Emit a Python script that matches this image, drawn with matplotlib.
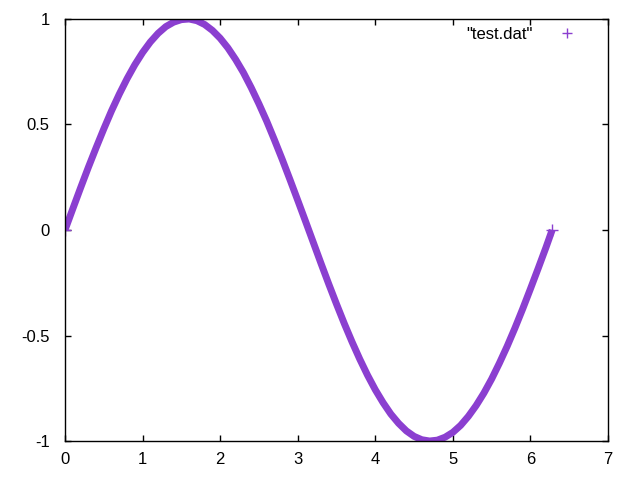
import matplotlib
matplotlib.use("Agg")
import matplotlib.pyplot as plt
from matplotlib.lines import Line2D

# values ("test.dat")
xs = [0.0, 0.1, 0.2, 0.3, 0.4, 0.5, 0.6, 0.7, 0.8, 0.9,
      1.0, 1.1, 1.2, 1.3, 1.4, 1.5, 1.6, 1.7, 1.8, 1.9,
      2.0, 2.1, 2.2, 2.3, 2.4, 2.5, 2.6, 2.7, 2.8, 2.9,
      3.0, 3.1, 3.2, 3.3, 3.4, 3.5, 3.6, 3.7, 3.8, 3.9,
      4.0, 4.1, 4.2, 4.3, 4.4, 4.5, 4.6, 4.7, 4.8, 4.9,
      5.0, 5.1, 5.2, 5.3, 5.4, 5.5, 5.6, 5.7, 5.8, 5.9,
      6.0, 6.1, 6.2, 6.28]
ys = [0.000, 0.100, 0.199, 0.296, 0.389, 0.479, 0.565, 0.644, 0.717, 0.783,
      0.841, 0.891, 0.932, 0.964, 0.985, 0.997, 1.000, 0.992, 0.974, 0.946,
      0.909, 0.863, 0.808, 0.746, 0.675, 0.598, 0.516, 0.427, 0.335, 0.239,
      0.141, 0.042, -0.058, -0.158, -0.256, -0.351, -0.443, -0.530, -0.612, -0.688,
      -0.757, -0.818, -0.872, -0.916, -0.952, -0.978, -0.994, -1.000, -0.996, -0.982,
      -0.959, -0.926, -0.883, -0.832, -0.773, -0.706, -0.631, -0.551, -0.465, -0.374,
      -0.279, -0.182, -0.083, 0.000]
xticks = [0, 1, 2, 3, 4, 5, 6, 7]
yticks = [-1, -0.5, 0, 0.5, 1]
ytick_labels = ["-1", "-0.5", "0", "0.5", "1"]

purple = "#8b3fd0"

plt.rcParams["font.family"] = ["Liberation Sans", "DejaVu Sans"]
plt.rcParams["font.size"] = 12

fig = plt.figure(figsize=(6.4, 4.8), dpi=100)
ax = fig.add_axes([65 / 640, 1 - 441 / 480, (608 - 65) / 640, (441 - 19) / 480])

# dense points merge into a thick band
ax.plot(xs, ys, "-", color=purple, lw=5, solid_capstyle="butt",
        solid_joinstyle="round",
        marker="+", markevery=[0, len(xs) - 1], ms=8, mew=1)

ax.set_xlim(0, 7)
ax.set_ylim(-1, 1)
ax.set_xticks(xticks)
ax.set_yticks(yticks)
ax.set_yticklabels(ytick_labels)
ax.tick_params(direction="in", length=4.5, width=1, top=True, right=True,
               labelsize=12)
ax.tick_params(axis="x", pad=8)
ax.tick_params(axis="y", pad=11)
for s in ax.spines.values():
    s.set_linewidth(1)

handle = Line2D([], [], ls="none", marker="+", color=purple, ms=7, mew=1)
ax.legend([handle], ['"test.dat"'], loc="upper right", frameon=False,
          markerfirst=False, handlelength=2.2, handletextpad=1.0,
          borderaxespad=0.2, bbox_to_anchor=(0.977, 1.005), fontsize=12)

fig.savefig("out.png", dpi=100)
